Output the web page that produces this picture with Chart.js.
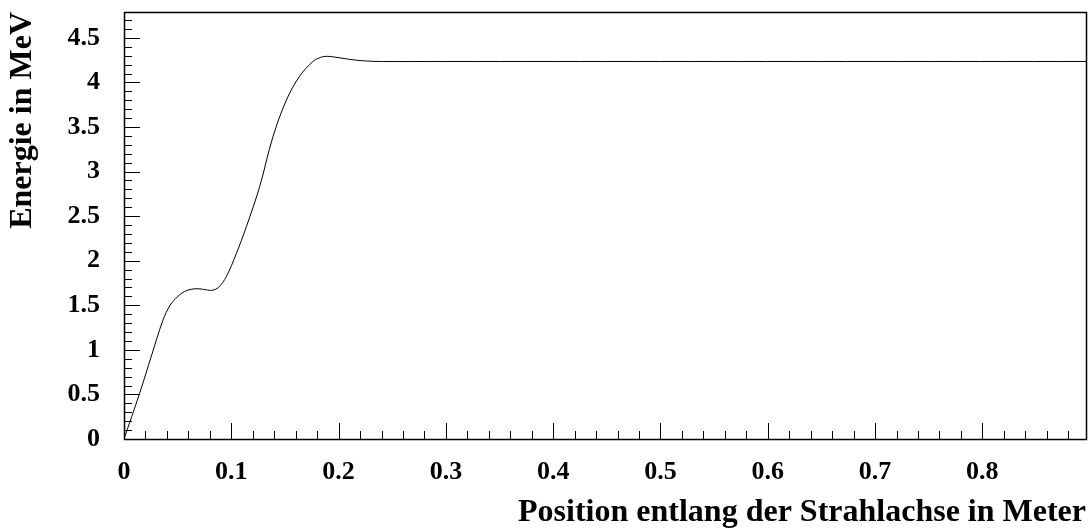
<!DOCTYPE html>
<html>
<head>
<meta charset="utf-8">
<script src="https://cdn.jsdelivr.net/npm/chart.js@4/dist/chart.umd.min.js"></script>
<style>
  html, body { margin: 0; padding: 0; background: #fff; }
  #wrap { width: 1091px; height: 532px; position: relative; }
</style>
</head>
<body>
<div id="wrap"><canvas id="energyChart"></canvas></div>
<script>
// Position entlang der Strahlachse (m) und Energie (MeV)
const positions = [0, 0.0145, 0.0255, 0.0362, 0.0430, 0.0502, 0.0565, 0.0627, 0.0700, 0.0767, 0.0820,
                   0.0880, 0.0953, 0.1047, 0.1140, 0.1264, 0.1388, 0.1513, 0.1637, 0.1761, 0.1830,
                   0.1886, 0.1960, 0.2073, 0.2160, 0.2260, 0.2400, 0.3000, 0.5000, 0.7000, 0.8966];
const energies  = [0, 0.51, 0.93, 1.33, 1.50, 1.60, 1.655, 1.68, 1.685, 1.673, 1.668,
                   1.70, 1.82, 2.08, 2.38, 2.83, 3.39, 3.80, 4.07, 4.235, 4.28,
                   4.293, 4.285, 4.264, 4.250, 4.240, 4.235, 4.235, 4.235, 4.235, 4.235];

const xTickLabels = [0, 0.1, 0.2, 0.3, 0.4, 0.5, 0.6, 0.7, 0.8];
const yTickLabels = [0, 0.5, 1, 1.5, 2, 2.5, 3, 3.5, 4, 4.5];
const xMinorStep = 0.02, yMinorStep = 0.1;
const xMax = 0.8966, yMax = 4.79;

const font = { family: '"Liberation Serif", "Times New Roman", serif', weight: 'bold' };

// Innenliegende Ticks + Rahmen (ROOT-Stil)
const frameTicks = {
    id: 'frameTicks',
    afterDatasetsDraw(chart) {
        const { ctx, chartArea: a, scales: { x, y } } = chart;
        ctx.save();
        ctx.strokeStyle = '#000';
        ctx.lineWidth = 1;
        ctx.beginPath();
        for (let i = 0; i * xMinorStep <= xMax + 1e-9; i++) {
            const px = Math.round(x.getPixelForValue(i * xMinorStep)) + 0.5;
            const len = i % 5 === 0 ? 16 : 8;
            ctx.moveTo(px, a.bottom);
            ctx.lineTo(px, a.bottom - len);
        }
        for (let i = 0; i * yMinorStep <= yMax + 1e-9; i++) {
            const py = Math.round(y.getPixelForValue(i * yMinorStep)) + 0.5;
            const len = i % 5 === 0 ? 16 : 8;
            ctx.moveTo(a.left, py);
            ctx.lineTo(a.left + len, py);
        }
        ctx.stroke();
        ctx.lineWidth = 1.5;
        ctx.strokeRect(Math.round(a.left) + 0.5, Math.round(a.top) + 0.5,
                       Math.round(a.right - a.left), Math.round(a.bottom - a.top));
        ctx.restore();
    }
};

new Chart(document.getElementById('energyChart'), {
    type: 'scatter',
    data: {
        datasets: [{
            data: positions.map((p, i) => ({ x: p, y: energies[i] })),
            showLine: true,
            borderColor: '#000',
            borderWidth: 1,
            pointRadius: 0,
            tension: 0.35
        }]
    },
    options: {
        responsive: true,
        maintainAspectRatio: false,
        animation: false,
        layout: { padding: { top: 12, right: 5, left: 0, bottom: 0 } },
        plugins: { legend: { display: false }, tooltip: { enabled: false } },
        scales: {
            x: {
                type: 'linear',
                min: 0, max: xMax,
                afterBuildTicks: s => { s.ticks = xTickLabels.map(v => ({ value: v })); },
                afterFit: s => { s.height = 93; s.paddingLeft = 0; s.paddingRight = 0; },
                grid: { display: false, drawTicks: false },
                border: { display: false },
                ticks: {
                    autoSkip: false,
                    color: '#000',
                    padding: 18,
                    maxRotation: 0,
                    font: { ...font, size: 26 },
                    callback: v => String(v)
                },
                title: {
                    display: true,
                    align: 'end',
                    text: 'Position entlang der Strahlachse in Meter',
                    color: '#000',
                    padding: { top: 0, bottom: 0 },
                    font: { ...font, size: 32 }
                }
            },
            y: {
                type: 'linear',
                min: 0, max: yMax,
                afterBuildTicks: s => { s.ticks = yTickLabels.map(v => ({ value: v })); },
                afterFit: s => { s.width = 124; s.paddingTop = 0; s.paddingBottom = 0; },
                grid: { display: false, drawTicks: false },
                border: { display: false },
                ticks: {
                    autoSkip: false,
                    color: '#000',
                    padding: 24,
                    font: { ...font, size: 26 },
                    callback: v => String(v)
                },
                title: {
                    display: true,
                    align: 'end',
                    text: 'Energie in MeV',
                    color: '#000',
                    padding: { top: 4, bottom: 0 },
                    font: { ...font, size: 32 }
                }
            }
        }
    },
    plugins: [frameTicks]
});
</script>
</body>
</html>
